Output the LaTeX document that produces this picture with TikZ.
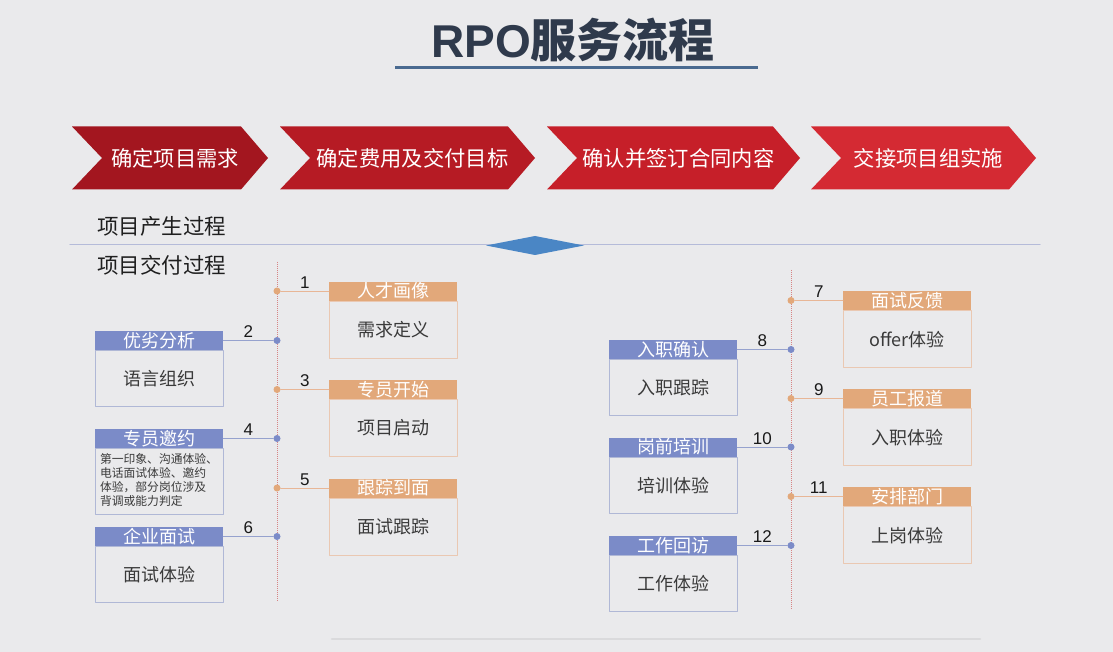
\documentclass[tikz,border=0pt]{standalone}
\usepackage{fontspec}
\setmainfont{Noto Sans CJK SC}
\newfontfamily\numfont{Liberation Sans}
\usetikzlibrary{calc,positioning}
\definecolor{pagegray}{RGB}{234,234,236}
\definecolor{titleink}{RGB}{47,58,76}
\definecolor{titlerule}{RGB}{74,106,144}
\definecolor{chevA}{RGB}{163,22,31}
\definecolor{chevB}{RGB}{182,27,36}
\definecolor{chevC}{RGB}{198,31,41}
\definecolor{chevD}{RGB}{212,42,51}
\definecolor{divider}{RGB}{181,187,217}
\definecolor{gem}{RGB}{74,134,197}
\definecolor{tlred}{RGB}{214,132,132}
\definecolor{headblue}{RGB}{123,139,200}
\definecolor{headorange}{RGB}{226,168,122}
\definecolor{rimblue}{RGB}{176,184,214}
\definecolor{rimorange}{RGB}{234,200,178}
\definecolor{linkblue}{RGB}{150,162,206}
\definecolor{linkorange}{RGB}{232,182,150}
\definecolor{bodyink}{RGB}{58,58,58}
\definecolor{faintline}{RGB}{218,218,220}
\newcommand{\invitetext}{\fontsize{11.8}{14.3}\selectfont
  \begin{tabular}{@{}l@{}}第一印象、沟通体验、\\电话面试体验、邀约\\
  体验，部分岗位涉及\\背调或能力判定\end{tabular}}
\tikzset{
  every picture/.style={line cap=round,line join=round},
  titlelab/.style={font=\fontsize{46}{50}\selectfont\bfseries,text=titleink,
    inner sep=0pt},
  chevtext/.style={text=white,font=\fontsize{21.3}{24}\selectfont,inner sep=0pt},
  sectionlab/.style={font=\fontsize{21.5}{24}\selectfont,text=black!88,
    anchor=west,inner sep=0pt},
  timeline/.style={line cap=butt,dash pattern=on 1pt off 1pt,line width=.9pt,
    draw=tlred},
  bluehead/.style={rectangle,fill=headblue,text=white,minimum width=128,
    minimum height=19,inner sep=0pt,font=\fontsize{18}{18}\selectfont},
  orangehead/.style={bluehead,fill=headorange},
  bluebody/.style={rectangle,draw=rimblue,line width=.9pt,minimum width=128,
    inner sep=0pt,text=bodyink,font=\fontsize{18}{20}\selectfont},
  orangebody/.style={bluebody,draw=rimorange},
  bluedot/.style={circle,fill=headblue,inner sep=0pt,minimum size=7},
  orangedot/.style={circle,fill=headorange,inner sep=0pt,minimum size=7},
  bluelink/.style={line width=.9pt,draw=linkblue},
  orangelink/.style={line width=.9pt,draw=linkorange},
  numlab/.style={font=\numfont\fontsize{17}{18}\selectfont,text=black!90,
    inner sep=1pt}
}
\begin{document}
\begin{tikzpicture}[x=1pt,y=-1pt]
  \fill[pagegray] (0,0) rectangle (1113,652);
  \useasboundingbox (0,0) rectangle (1113,652);

  % Title and its rule.
  \node[titlelab] (title) at (573,40) {{\numfont RPO}服务流程};
  \draw[line width=3pt,draw=titlerule,line cap=butt] (395,68) -- (758,68);

  % The four stages of the project.
  \foreach \xa/\xb/\col/\txt/\name in {
    72/268/chevA/确定项目需求/c1,280/535/chevB/确定费用及交付目标/c2,
    547/800/chevC/确认并签订合同内容/c3,811/1036/chevD/交接项目组实施/c4}{
    \fill[\col] (\xa,126.5) -- (\xb-27,126.5) -- (\xb,158) -- (\xb-27,189.5)
      -- (\xa,189.5) -- (\xa+30,158) -- cycle;
    \node[chevtext] (\name) at ({(\xa+\xb)/2+5},158) {\txt};
  }

  % Divider between the two phases.
  \node[sectionlab] (genlab) at (97,226) {项目产生过程};
  \draw[line width=1.2pt,draw=divider] (70,244.5) -- (1040,244.5);
  \fill[gem] (486,245.5) -- (535,236) -- (584,245.5) -- (535,255) -- cycle;
  \node[sectionlab] (delivlab) at (97,265) {项目交付过程};

  % Two timelines.
  \coordinate (ltop) at (277,262);
  \coordinate (lbot) at (277,602);
  \coordinate (rtop) at (791,270);
  \coordinate (rbot) at (791,610);
  \draw[timeline] (ltop) -- (lbot);
  \draw[timeline] (rtop) -- (rbot);

  % Steps to the right of a timeline.
  \foreach \idx/\tl/\yy/\head/\bodytxt in {
    1/277/291/人才画像/需求定义,3/277/389.5/专员开始/项目启动,
    5/277/488/跟踪到面/面试跟踪,7/791/300.5/面试反馈/offer体验,
    9/791/398.5/员工报道/入职体验,11/791/496.5/安排部门/上岗体验}{
    \node[orangedot] (d\idx) at (\tl,\yy) {};
    \node[orangehead] (h\idx) at (\tl+116,\yy) {\head};
    \node[orangebody,minimum height=57,below=0pt of h\idx] (b\idx) {\bodytxt};
    \draw[orangelink] (d\idx) -- (h\idx.west);
    \path (d\idx) -- (h\idx.west) node[midway,above=1.5pt,numlab] {\idx};
  }

  % Steps to the left of a timeline.
  \foreach \idx/\tl/\yy/\head/\bodytxt/\bh in {
    2/277/340.5/优劣分析/语言组织/56,4/277/438.5/专员邀约/\invitetext/66,
    6/277/536.5/企业面试/面试体验/56,8/791/349.5/入职确认/入职跟踪/56,
    10/791/447/岗前培训/培训体验/56,12/791/545.5/工作回访/工作体验/56}{
    \node[bluedot] (d\idx) at (\tl,\yy) {};
    \node[bluehead] (h\idx) at (\tl-118,\yy) {\head};
    \node[bluebody,minimum height=\bh,below=0pt of h\idx] (b\idx) {\bodytxt};
    \draw[bluelink] (h\idx.east) -- (d\idx);
    \path (h\idx.east) -- (d\idx) node[midway,above=1.5pt,numlab] {\idx};
  }

  % Faint rule at the foot of the slide.
  \draw[line width=2.5pt,draw=faintline] (332,639) -- (980,639);
\end{tikzpicture}
\end{document}
